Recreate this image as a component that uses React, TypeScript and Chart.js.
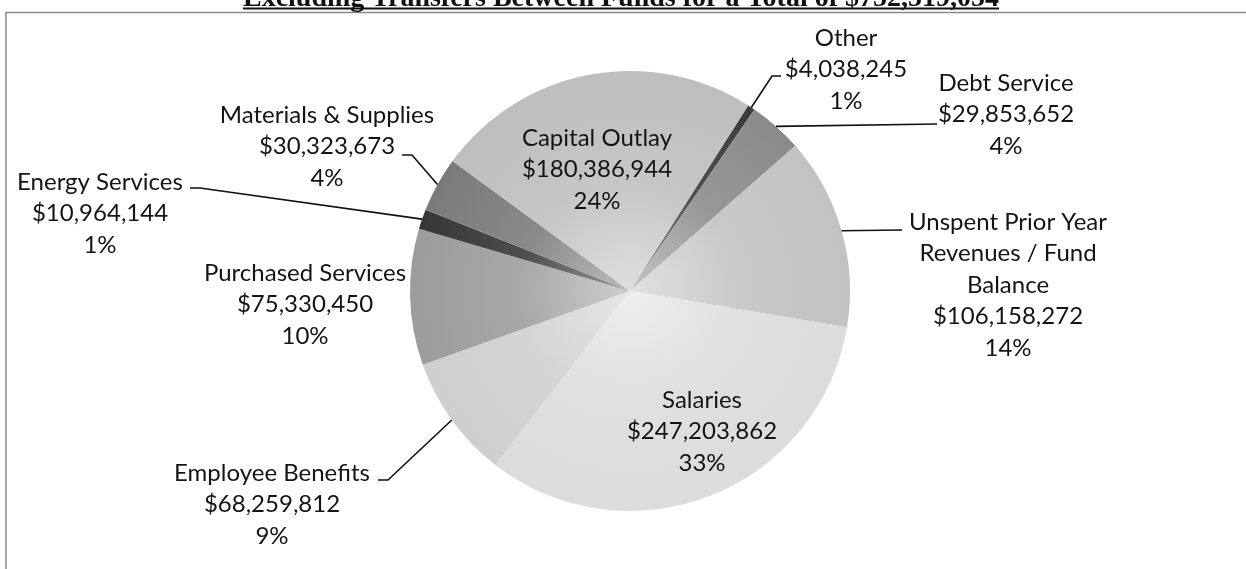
import React, { useEffect, useRef } from "react";
import { Chart, registerables } from "chart.js";

Chart.register(...registerables);

// ---------- data ----------
const categories = [
  "Other",
  "Debt Service",
  "Unspent Prior Year Revenues / Fund Balance",
  "Salaries",
  "Employee Benefits",
  "Purchased Services",
  "Energy Services",
  "Materials & Supplies",
  "Capital Outlay",
];
const amounts = [
  4038245, 29853652, 106158272, 247203862, 68259812, 75330450, 10964144, 30323673, 180386944,
];
const nameLines = [
  ["Other"],
  ["Debt Service"],
  ["Unspent Prior Year", "Revenues / Fund", "Balance"],
  ["Salaries"],
  ["Employee Benefits"],
  ["Purchased Services"],
  ["Energy Services"],
  ["Materials & Supplies"],
  ["Capital Outlay"],
];
const sliceColors = [
  "#3a3a3a", "#8a8a8a", "#c2c2c2", "#dcdcdc", "#cfcfcf", "#9c9c9c", "#363636", "#7a7a7a", "#bebebe",
];
const titleText = "Excluding Transfers Between Funds for a Total of $752,519,054";

// ---------- layout / style ----------
const FONT = "Lato, 'Open Sans', sans-serif";
const FONT_SIZE = 24;
const LINE_H = 31.5;
// label centre x, first line centre y, leader points (label side first)
const labelLayout = [
  { x: 846, y: 38, leader: [[781, 76], [772, 76]] },
  { x: 1006, y: 83, leader: [[937, 124]] },
  { x: 1008, y: 222, leader: [[902, 230]] },
  { x: 702, y: 400, leader: null },
  { x: 272, y: 473, leader: [[378, 480], [388, 480]] },
  { x: 305, y: 273, leader: null },
  { x: 100, y: 182, leader: [[190, 188], [200, 188]] },
  { x: 327, y: 115, leader: [[402, 155], [412, 155]] },
  { x: 597, y: 138, leader: null },
];

function mixWhite(hex: string, t: number) {
  const n = parseInt(hex.slice(1), 16);
  const r = (n >> 16) & 255, g = (n >> 8) & 255, b = n & 255;
  const m = (c: number) => Math.round(c + (255 - c) * t);
  return `rgb(${m(r)},${m(g)},${m(b)})`;
}

const framePlugin = {
  id: "frameAndTitle",
  beforeDraw(chart: any) {
    const ctx = chart.ctx;
    ctx.save();
    ctx.fillStyle = "#ffffff";
    ctx.fillRect(0, 0, chart.width, chart.height);
    // frame
    ctx.strokeStyle = "#8a8a8a";
    ctx.lineWidth = 1.5;
    ctx.beginPath();
    ctx.moveTo(6, chart.height);
    ctx.lineTo(6, 12.5);
    ctx.lineTo(chart.width, 12.5);
    ctx.stroke();
    // clipped title
    ctx.font = "bold 28px 'Liberation Serif', 'DejaVu Serif', serif";
    ctx.fillStyle = "#111";
    ctx.textAlign = "center";
    ctx.textBaseline = "alphabetic";
    const cx = 621;
    ctx.fillText(titleText, cx, 6);
    const w = ctx.measureText(titleText).width;
    ctx.fillRect(cx - w / 2, 7.5, w, 2);
    ctx.restore();
  },
};

const labelPlugin = {
  id: "sliceLabels",
  afterDatasetsDraw(chart: any) {
    const ctx = chart.ctx;
    const meta = chart.getDatasetMeta(0);
    const data = chart.data.datasets[0].data as number[];
    const total = data.reduce((a, b) => a + b, 0);
    ctx.save();
    meta.data.forEach((arc: any, i: number) => {
      const p = arc.getProps(["x", "y", "startAngle", "endAngle", "outerRadius"], true);
      const mid = (p.startAngle + p.endAngle) / 2;
      const ex = p.x + Math.cos(mid) * p.outerRadius;
      const ey = p.y + Math.sin(mid) * p.outerRadius;
      const lay = labelLayout[i];
      if (lay.leader) {
        ctx.strokeStyle = "#111";
        ctx.lineWidth = 1.6;
        ctx.beginPath();
        ctx.moveTo(lay.leader[0][0], lay.leader[0][1]);
        for (let k = 1; k < lay.leader.length; k++) ctx.lineTo(lay.leader[k][0], lay.leader[k][1]);
        ctx.lineTo(ex, ey);
        ctx.stroke();
      }
      const lines = [
        ...nameLines[i],
        "$" + data[i].toLocaleString("en-US"),
        Math.round((data[i] / total) * 100) + "%",
      ];
      ctx.font = `${FONT_SIZE}px ${FONT}`;
      ctx.fillStyle = "#141414";
      ctx.textAlign = "center";
      ctx.textBaseline = "middle";
      lines.forEach((t, k) => ctx.fillText(t, lay.x, lay.y + k * LINE_H));
    });
    ctx.restore();
  },
};

export default function App() {
  const ref = useRef<HTMLCanvasElement | null>(null);
  useEffect(() => {
    if (!ref.current) return;
    const chart = new Chart(ref.current, {
      type: "pie",
      data: {
        labels: categories,
        datasets: [
          {
            data: amounts,
            borderWidth: 0,
            backgroundColor: (c: any) => {
              const ch = c.chart;
              const base = sliceColors[c.dataIndex];
              const a = ch.chartArea;
              if (!a) return base;
              const x = (a.left + a.right) / 2;
              const y = (a.top + a.bottom) / 2;
              const r = Math.min(a.right - a.left, a.bottom - a.top) / 2;
              if (!(r > 0)) return base;
              const g = ch.ctx.createRadialGradient(x, y, 0, x, y, r);
              g.addColorStop(0, mixWhite(base, 0.5));
              g.addColorStop(0.5, mixWhite(base, 0.12));
              g.addColorStop(1, base);
              return g;
            },
          },
        ],
      },
      options: {
        responsive: false,
        animation: false,
        rotation: 32.5,
        layout: { padding: { left: 410, right: 396, top: 71, bottom: 58 } },
        plugins: {
          legend: { display: false },
          tooltip: { enabled: false },
          title: { display: false },
        },
      },
      plugins: [framePlugin, labelPlugin],
    });
    return () => chart.destroy();
  }, []);
  return (
    <div style={{ position: "fixed", left: 0, top: 0, width: 1246, height: 569, background: "#fff" }}>
      <canvas ref={ref} width={1246} height={569} style={{ width: 1246, height: 569, display: "block" }} />
    </div>
  );
}
